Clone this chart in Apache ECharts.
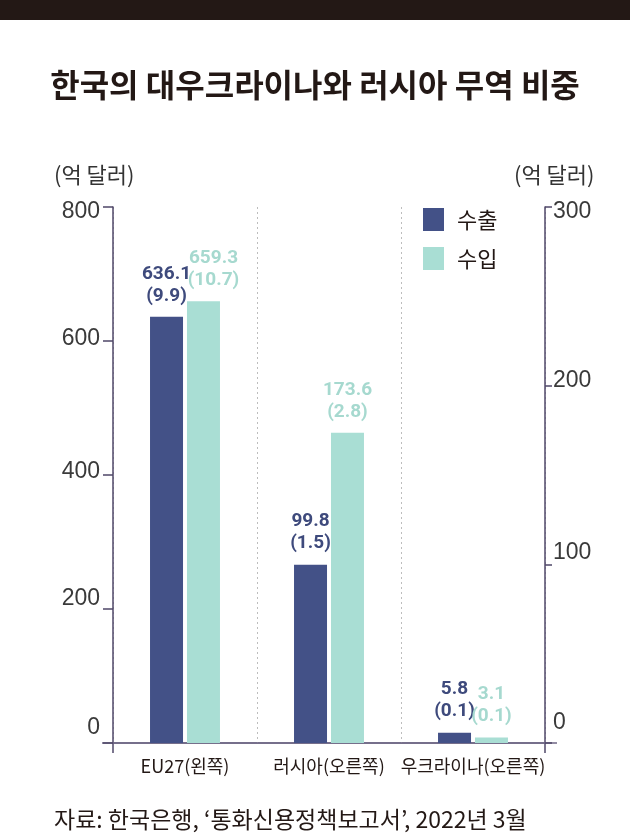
<!DOCTYPE html>
<html>
<head>
<meta charset="utf-8">
<script src="https://cdn.jsdelivr.net/npm/echarts@6/dist/echarts.min.js"></script>
<style>
html,body{margin:0;padding:0;background:#fff;}
#chart{width:630px;height:833px;}
</style>
</head>
<body>
<div id="chart"></div>
<script>
// ---- data ----
const categories = ['EU27(왼쪽)', '러시아(오른쪽)', '우크라이나(오른쪽)'];
const axisSide = ['left', 'right', 'right'];
const exportValues = [636.1, 99.8, 5.8];
const exportShare = [9.9, 1.5, 0.1];
const importValues = [659.3, 173.6, 3.1];
const importShare = [10.7, 2.8, 0.1];
const leftTicks = [0, 200, 400, 600, 800];
const rightTicks = [0, 100, 200, 300];
const seriesNames = ['수출', '수입'];
const unitLabel = '(억 달러)';
const titleText = '한국의 대우크라이나와 러시아 무역 비중';
const sourceText = '자료: 한국은행, ‘통화신용정책보고서’, 2022년 3월';

// ---- style ----
const C_EXP = '#435187';
const C_IMP = '#a9ded4';
const C_EXP_T = '#3e4a7c';
const C_IMP_T = '#a6d9cf';
const C_TEXT = '#231815';
const C_AXIS = '#4f4768';
const G = {left: 113, right: 85, top: 207, bottom: 90};
const W = 630, H = 833;
const yBase = H - G.bottom;
const xL = G.left, xR = W - G.right;

const labelFont = "Roboto,sans-serif";
const koFont = "'Noto Sans CJK KR',sans-serif";

// label nudges (px up positive) to mimic reference placement
const leftNudge = {0: 15, 200: 10, 400: 3, 600: 2, 800: -5};
const rightNudge = {0: 20, 100: 12, 200: 5, 300: -5};
function richFor(nudges) {
  const r = {};
  Object.keys(nudges).forEach(k => {
    const u = nudges[k];
    r['v' + k] = {
      fontSize: 23, fontFamily: "'Liberation Sans',sans-serif", color: '#3a3a3a',
      padding: u >= 0 ? [0, 0, 2 * u, 0] : [-2 * u, 0, 0, 0]
    };
  });
  return r;
}

function sideData(values, side, offsetFirst) {
  return values.map((v, i) => {
    if (axisSide[i] !== side) return null;
    if (offsetFirst && i === 0) return {value: v, label: {offset: [10, 0]}};
    return v;
  });
}

function barLabel(shares, color) {
  return {
    show: true, position: 'top', distance: 10,
    color: color, fontFamily: labelFont, fontWeight: 'bold', fontSize: 19, lineHeight: 22,
    formatter: p => (+p.value).toFixed(1) + '\n(' + shares[p.dataIndex].toFixed(1) + ')'
  };
}

function makeSeries(name, stack, axisIdx, values, shares, color, tcolor, side, offsetFirst) {
  return {
    name: name, type: 'bar', stack: stack, yAxisIndex: axisIdx,
    barWidth: 33, barGap: '12%',
    itemStyle: {color: color},
    label: barLabel(shares, tcolor),
    data: sideData(values, side, offsetFirst),
    animation: false
  };
}

const chart = echarts.init(document.getElementById('chart'), null, {renderer: 'canvas'});
chart.setOption({
  animation: false,
  backgroundColor: '#fff',
  title: [
    {text: titleText, left: 'center', top: 64,
     textStyle: {fontFamily: koFont, fontSize: 32, fontWeight: 'bold', color: C_TEXT}},
    {text: unitLabel, left: 49, top: 159,
     textStyle: {fontFamily: koFont, fontSize: 22, fontWeight: 'normal', color: '#333'}},
    {text: unitLabel, left: 509, top: 159,
     textStyle: {fontFamily: koFont, fontSize: 22, fontWeight: 'normal', color: '#333'}},
    {text: sourceText, left: 49, top: 803,
     textStyle: {fontFamily: koFont, fontSize: 23, fontWeight: 'normal', color: C_TEXT}}
  ],
  legend: {
    data: seriesNames, orient: 'vertical', left: 423, top: 208,
    itemWidth: 21, itemHeight: 23, itemGap: 16, icon: 'rect', padding: 0,
    textStyle: {fontFamily: koFont, fontSize: 22, color: C_TEXT, padding: [0, 0, 0, 8]},
    selectedMode: false
  },
  grid: G,
  xAxis: {
    type: 'category', data: categories,
    axisLine: {show: true, lineStyle: {color: '#6e6684', width: 1.5}},
    axisTick: {show: false},
    axisLabel: {interval: 0, fontFamily: koFont, fontSize: 18, color: C_TEXT, margin: 14},
    splitLine: {show: true, interval: 0, lineStyle: {color: '#bdbdbd', type: [2, 3], width: 1}}
  },
  yAxis: [
    {
      type: 'value', min: 0, max: 800, interval: 200, position: 'left',
      axisLine: {show: true, lineStyle: {color: C_AXIS, width: 1.5}},
      axisTick: {show: true, length: 10, lineStyle: {color: C_AXIS, width: 1.5}},
      axisLabel: {margin: 13, formatter: v => '{v' + v + '|' + v + '}', rich: richFor(leftNudge)},
      splitLine: {show: false}
    },
    {
      type: 'value', min: 0, max: 300, interval: 100, position: 'right',
      axisLine: {show: true, lineStyle: {color: C_AXIS, width: 1.5}},
      axisTick: {show: true, length: 7, lineStyle: {color: C_AXIS, width: 1.5}},
      axisLabel: {margin: 8, formatter: v => '{v' + v + '|' + v + '}', rich: richFor(rightNudge)},
      splitLine: {show: false}
    }
  ],
  graphic: [
    {type: 'rect', shape: {x: 0, y: 0, width: W, height: 20}, style: {fill: '#231815'}},
    {type: 'line', shape: {x1: xL - 11, y1: yBase, x2: xR + 12, y2: yBase},
     style: {stroke: '#6e6684', lineWidth: 1.5}},
    {type: 'line', shape: {x1: xL, y1: yBase, x2: xL, y2: yBase + 10},
     style: {stroke: C_AXIS, lineWidth: 1.5}},
    {type: 'line', shape: {x1: xR, y1: yBase, x2: xR, y2: yBase + 10},
     style: {stroke: C_AXIS, lineWidth: 1.5}}
  ],
  series: [
    makeSeries(seriesNames[0], 'ex', 0, exportValues, exportShare, C_EXP, C_EXP_T, 'left', false),
    makeSeries(seriesNames[1], 'im', 0, importValues, importShare, C_IMP, C_IMP_T, 'left', true),
    makeSeries(seriesNames[0], 'ex', 1, exportValues, exportShare, C_EXP, C_EXP_T, 'right', false),
    makeSeries(seriesNames[1], 'im', 1, importValues, importShare, C_IMP, C_IMP_T, 'right', false)
  ]
});
</script>
</body>
</html>
